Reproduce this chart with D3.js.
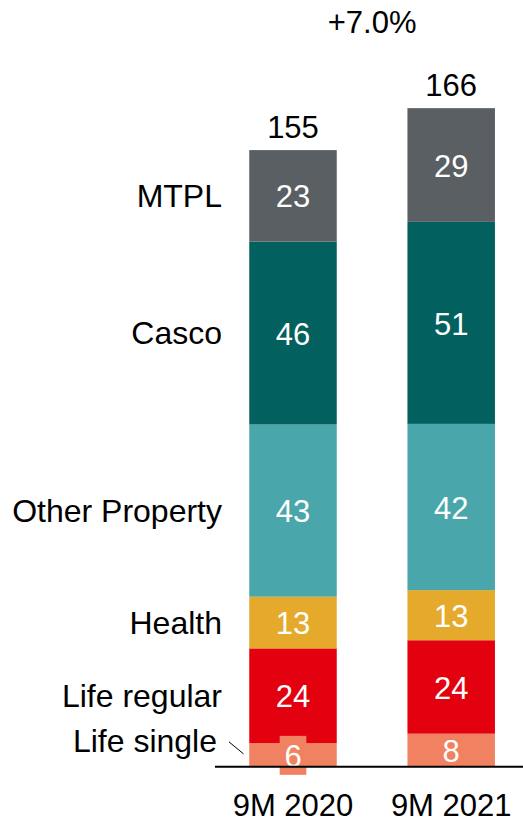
<!DOCTYPE html>
<html>
<head>
<meta charset="utf-8">
<script src="https://cdn.jsdelivr.net/npm/d3@7"></script>
<style>
  body { margin: 0; background: #fff; }
  svg { display: block; font-family: "Liberation Sans", Arial, sans-serif; }
</style>
</head>
<body>
<div id="chart"></div>
<script>
// Datos (de abajo hacia arriba)
const categorias = ["Life single", "Life regular", "Health", "Other Property", "Casco", "MTPL"]
const periodos = ["9M 2020", "9M 2021"]
const valores2020 = [5.95, 23.8, 13.0, 43.3, 46.0, 23.0]
const valores2021 = [8.3, 23.5, 12.6, 41.8, 50.8, 28.6]
const colores = ["#F08262", "#E3000F", "#E5AA2B", "#49A7AB", "#02605F", "#595F62"]
const crecimiento = "+7.0%"

const draw = () => {
  const ancho = 523
  const alto = 820
  const base = 766.7
  const anchoBarra = 87.5
  const fs = 31
  const fsCat = 32

  const svg = d3
    .select("#chart")
    .append("svg")
    .attr("width", ancho)
    .attr("height", alto)

  const series = [valores2020, valores2021]
  const dataset = periodos.map((p, i) => {
    let acc = 0
    const segs = categorias.map((c, j) => {
      const s = { periodo: p, cat: c, valor: series[i][j], y0: acc, y1: acc + series[i][j], color: colores[j] }
      acc += series[i][j]
      return s
    })
    return { periodo: p, total: acc, segs }
  })

  // Escaladores
  const x = d3.scalePoint().domain(periodos).range([293, 451.2])
  const y = d3.scaleLinear().domain([0, 155]).range([base, 150.3])

  // Barras
  const grupos = svg
    .selectAll("g.barra")
    .data(dataset)
    .join("g")
    .classed("barra", true)

  grupos
    .selectAll("rect")
    .data((d) => d.segs)
    .join("rect")
    .attr("x", (d) => x(d.periodo) - anchoBarra / 2)
    .attr("y", (d) => y(d.y1))
    .attr("width", anchoBarra)
    .attr("height", (d) => y(d.y0) - y(d.y1))
    .attr("fill", (d) => d.color)

  // Etiquetas de valores
  grupos.each(function (d) {
    const g = d3.select(this)
    d.segs.forEach((s) => {
      const cy = (y(s.y0) + y(s.y1)) / 2 + 0.5
      const alturaSeg = y(s.y0) - y(s.y1)
      const t = g
        .append("text")
        .attr("x", x(s.periodo))
        .attr("y", cy)
        .attr("dy", "0.36em")
        .attr("text-anchor", "middle")
        .attr("font-size", fs)
        .attr("fill", "#fff")
        .text(Math.round(s.valor))
      if (alturaSeg < 30) {
        const bb = t.node().getBBox()
        g.insert("rect", () => t.node())
          .attr("x", bb.x - 4.7)
          .attr("y", cy - 19.5)
          .attr("width", bb.width + 9.4)
          .attr("height", 39)
          .attr("fill", s.color)
      }
    })
  })

  // Totales
  svg
    .selectAll("text.total")
    .data(dataset)
    .join("text")
    .classed("total", true)
    .attr("x", (d) => x(d.periodo))
    .attr("y", (d) => y(d.total) - 12.6)
    .attr("text-anchor", "middle")
    .attr("font-size", fs)
    .attr("fill", "#000")
    .text((d) => Math.round(d.total))

  // Crecimiento
  svg
    .append("text")
    .attr("x", (x(periodos[0]) + x(periodos[1])) / 2)
    .attr("y", 33)
    .attr("text-anchor", "middle")
    .attr("font-size", fs)
    .text(crecimiento)

  // Etiquetas de categorias (junto a la primera barra)
  dataset[0].segs.forEach((s) => {
    const cy = (y(s.y0) + y(s.y1)) / 2
    const alturaSeg = y(s.y0) - y(s.y1)
    const chico = alturaSeg < 30
    svg
      .append("text")
      .attr("x", chico ? 217 : 222)
      .attr("y", chico ? cy - 14 : cy)
      .attr("dy", "0.35em")
      .attr("text-anchor", "end")
      .attr("font-size", fsCat)
      .attr("fill", "#000")
      .text(s.cat)
    if (chico) {
      svg
        .append("line")
        .attr("x1", 229)
        .attr("y1", cy - 13)
        .attr("x2", 243.5)
        .attr("y2", cy - 1)
        .attr("stroke", "#000")
        .attr("stroke-width", 1)
    }
  })

  // Eje
  svg
    .append("line")
    .attr("x1", 215)
    .attr("x2", ancho)
    .attr("y1", base)
    .attr("y2", base)
    .attr("stroke", "#000")
    .attr("stroke-width", 2)

  svg
    .selectAll("text.eje")
    .data(periodos)
    .join("text")
    .classed("eje", true)
    .attr("x", (d) => x(d))
    .attr("y", 816)
    .attr("text-anchor", "middle")
    .attr("font-size", fs)
    .text((d) => d)
}

draw()
</script>
</body>
</html>
